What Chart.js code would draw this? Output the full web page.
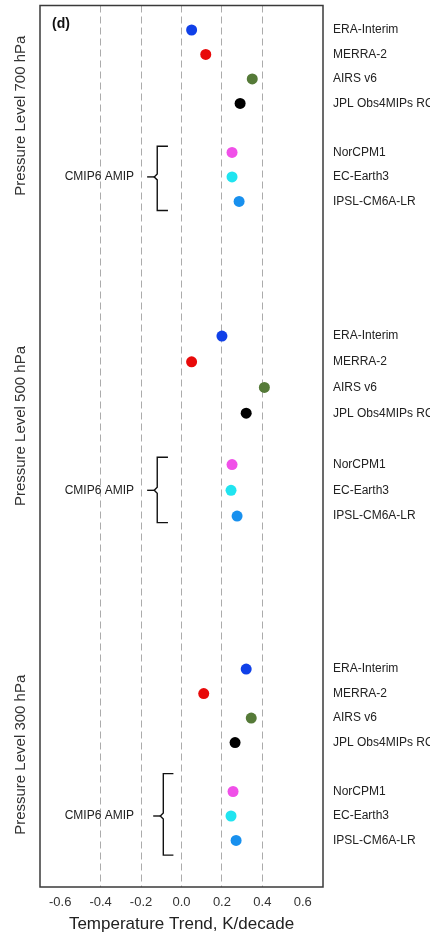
<!DOCTYPE html>
<html>
<head>
<meta charset="utf-8">
<script src="https://cdn.jsdelivr.net/npm/chart.js@4.4.1/dist/chart.umd.min.js"></script>
<style>
  html, body { margin: 0; padding: 0; background: #fff; }
  #wrap { width: 430px; height: 936px; position: relative; }
</style>
</head>
<body>
<div id="wrap"><canvas id="c" width="430" height="936"></canvas></div>
<script>
// ---- data ----
const sources = ['ERA-Interim', 'MERRA-2', 'AIRS v6', 'JPL Obs4MIPs RO', 'NorCPM1', 'EC-Earth3', 'IPSL-CM6A-LR'];
const layers = ['Pressure Level 700 hPa', 'Pressure Level 500 hPa', 'Pressure Level 300 hPa'];
const eraInterim = [0.05, 0.20, 0.32];
const merra2     = [0.12, 0.05, 0.11];
const airsV6     = [0.35, 0.41, 0.345];
const jplRO      = [0.29, 0.32, 0.265];
const norCPM1    = [0.25, 0.25, 0.255];
const ecEarth3   = [0.25, 0.245, 0.245];
const ipslCM6A   = [0.285, 0.275, 0.27];
const xTickValues = [-0.6, -0.4, -0.2, 0.0, 0.2, 0.4, 0.6];
const bracketLabel = 'CMIP6 AMIP';
const panelTag = '(d)';
const xTitle = 'Temperature Trend, K/decade';

// ---- layout config (row positions on the category-like y axis) ----
const seriesValues = [eraInterim, merra2, airsV6, jplRO, norCPM1, ecEarth3, ipslCM6A];
const colors = ['#1040e8', '#e80a0a', '#557a38', '#000000', '#f050e8', '#20e4f0', '#1890ee'];
const rowOffsets = [0, 1, 2, 3, 5, 6, 7];
const groupStart = [1, 13.5, 27.1];
const groupStep = [1, 1.05, 1];
const rowOf = (g, s) => groupStart[g] + rowOffsets[s] * groupStep[g];

const tickRows = [];
const rowLabel = {};
for (let g = 0; g < layers.length; g++) {
  for (let s = 0; s < sources.length; s++) {
    const r = rowOf(g, s);
    tickRows.push(r);
    rowLabel[r.toFixed(3)] = sources[s];
  }
}

const datasets = sources.map((name, s) => ({
  label: name,
  data: seriesValues[s].map((v, g) => ({ x: v, y: rowOf(g, s) })),
  backgroundColor: colors[s],
  borderColor: colors[s],
  pointRadius: 5.5,
  pointBorderWidth: 0,
  showLine: false
}));

// bracket geometry per group (x in data units, y extent relative to rows)
const bracket = [
  { x: -0.12, tip: -0.067, point: -0.17, top: -0.25, bottom: 0.37 },
  { x: -0.12, tip: -0.067, point: -0.17, top: -0.3,  bottom: 0.27 },
  { x: -0.09, tip: -0.04,  point: -0.14, top: -0.73, bottom: 0.6 }
];

const decor = {
  id: 'decor',
  beforeDatasetsDraw(chart) {
    const { ctx, chartArea: a, scales: { x, y } } = chart;
    ctx.save();
    // frame
    ctx.strokeStyle = '#3a3a3a';
    ctx.lineWidth = 1.5;
    ctx.strokeRect(a.left, a.top, a.right - a.left, a.bottom - a.top);
    // panel tag
    ctx.fillStyle = '#111';
    ctx.font = 'bold 14px "Liberation Sans", Arial, sans-serif';
    ctx.textAlign = 'left';
    ctx.textBaseline = 'middle';
    ctx.fillText(panelTag, a.left + 12, a.top + 19);
    // brackets + labels + layer names
    for (let g = 0; g < layers.length; g++) {
      const b = bracket[g];
      const yTop = y.getPixelForValue(rowOf(g, 4) + b.top);
      const yBot = y.getPixelForValue(rowOf(g, 6) + b.bottom);
      const yMid = y.getPixelForValue(rowOf(g, 5));
      const xv = x.getPixelForValue(b.x);
      const xt = x.getPixelForValue(b.tip);
      const xp = x.getPixelForValue(b.point);
      ctx.strokeStyle = '#111';
      ctx.lineWidth = 1.4;
      ctx.beginPath();
      ctx.moveTo(xt, yTop);
      ctx.lineTo(xv, yTop);
      ctx.lineTo(xv, yMid - 3);
      ctx.lineTo(xv - 3, yMid);
      ctx.lineTo(xv, yMid + 3);
      ctx.lineTo(xv, yBot);
      ctx.lineTo(xt, yBot);
      ctx.stroke();
      ctx.beginPath();
      ctx.moveTo(xv - 3, yMid);
      ctx.lineTo(xp, yMid);
      ctx.stroke();
      ctx.fillStyle = '#222';
      ctx.font = '12px "Liberation Sans", Arial, sans-serif';
      ctx.textAlign = 'right';
      ctx.textBaseline = 'middle';
      ctx.fillText(bracketLabel, x.getPixelForValue(-0.235), yMid);
      // rotated layer name on the left
      const yc = y.getPixelForValue((rowOf(g, 0) + rowOf(g, 6)) / 2);
      ctx.save();
      ctx.translate(21, yc);
      ctx.rotate(-Math.PI / 2);
      ctx.fillStyle = '#333';
      ctx.font = '15px "Liberation Sans", Arial, sans-serif';
      ctx.textAlign = 'center';
      ctx.textBaseline = 'middle';
      ctx.fillText(layers[g], 0, 0);
      ctx.restore();
    }
    ctx.restore();
  }
};

new Chart(document.getElementById('c'), {
  type: 'scatter',
  data: { datasets },
  options: {
    responsive: false,
    devicePixelRatio: 1,
    animation: false,
    layout: { padding: { left: 40, top: 5, right: 0, bottom: 0 } },
    plugins: { legend: { display: false }, tooltip: { enabled: false } },
    scales: {
      x: {
        type: 'linear',
        min: -0.7,
        max: 0.7,
        afterBuildTicks(s) { s.ticks = xTickValues.map(v => ({ value: v })); },
        afterFit(s) { s.height = 49; s.paddingLeft = 0; s.paddingRight = 0; },
        grid: {
          drawTicks: false,
          lineWidth: 1,
          color: c => (c.tick && Math.abs(c.tick.value) < 0.5) ? '#ababab' : 'rgba(0,0,0,0)'
        },
        border: { display: false, dash: [7, 4] },
        ticks: {
          padding: 8,
          color: '#333',
          font: { family: '"Liberation Sans", Arial, sans-serif', size: 13 },
          callback: v => (Math.abs(v) < 1e-9 ? 0 : v).toFixed(1)
        },
        title: {
          display: true,
          text: xTitle,
          color: '#222',
          font: { family: '"Liberation Sans", Arial, sans-serif', size: 17 },
          padding: { top: 4, bottom: 1 }
        }
      },
      y: {
        type: 'linear',
        position: 'right',
        reverse: true,
        min: 0,
        max: 36,
        afterBuildTicks(s) { s.ticks = tickRows.map(v => ({ value: v })); },
        afterFit(s) { s.width = 107; s.paddingTop = 0; s.paddingBottom = 0; },
        grid: { display: false, drawTicks: false },
        border: { display: false },
        ticks: {
          autoSkip: false,
          padding: 10,
          color: '#222',
          font: { family: '"Liberation Sans", Arial, sans-serif', size: 12 },
          callback: v => rowLabel[Number(v).toFixed(3)] || ''
        }
      }
    }
  },
  plugins: [decor]
});
</script>
</body>
</html>
